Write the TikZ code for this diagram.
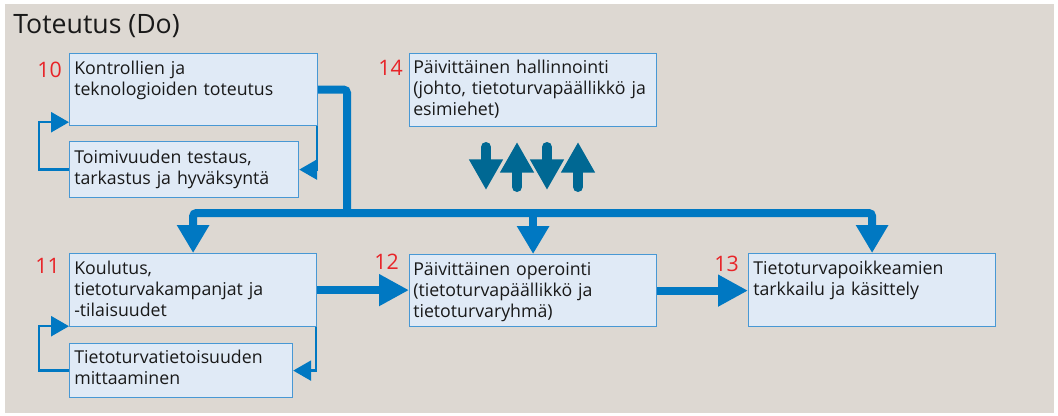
\documentclass[tikz,border=0pt]{standalone}
\usepackage{fontspec}
\setmainfont{Open Sans}
\usetikzlibrary{arrows.meta,calc}

\definecolor{panelgray}{RGB}{221,216,210}
\definecolor{boxfill}{RGB}{224,234,246}
\definecolor{boxedge}{RGB}{72,152,212}
\definecolor{busblue}{RGB}{0,120,194}
\definecolor{darkblue}{RGB}{0,104,147}
\definecolor{numred}{RGB}{232,36,40}
\definecolor{ink}{RGB}{25,25,25}

\begin{document}
\begin{tikzpicture}[x=0.75pt,y=-0.75pt,
  box/.style={draw=boxedge, fill=boxfill, line width=0.9pt, inner sep=0pt, anchor=north west},
  boxtext/.style={anchor=base west, inner sep=0pt, text width=240*0.75pt, align=left,
    text=ink, font=\fontsize{13.3}{15.75}\selectfont},
  num/.style={anchor=base east, inner sep=0pt, text=numred, font=\fontsize{16}{18}\selectfont},
  bus/.style={draw=busblue, line width=6pt, rounded corners=2.5pt},
  bushead/.style={-{Triangle[width=23pt,length=21pt]}},
  sidehead/.style={-{Triangle[width=22.5pt,length=22.5pt]}},
  loopline/.style={draw=busblue, line width=1.9pt, -{Triangle[width=15pt,length=13.5pt]}},
  dk/.style={draw=darkblue, line width=7.5pt, line cap=round, -{Triangle[width=24pt,length=23pt]}}]

% page and panel
\useasboundingbox (0,0) rectangle (1058,415);
\fill[white] (0,0) rectangle (1058,415);
\fill[panelgray] (5,4) rectangle (1054,413);

% heading
\node[anchor=base west, inner sep=0pt, text=ink, font=\fontsize{20}{24}\selectfont] (title) at (13,33) {Toteutus (Do)};

% boxes
\node[box, minimum width=248*0.75pt, minimum height=72*0.75pt] (b10) at (69,53) {};
\node[box, minimum width=229*0.75pt, minimum height=56*0.75pt] (b10t) at (69,141) {};
\node[box, minimum width=247*0.75pt, minimum height=73*0.75pt] (b14) at (409,53) {};
\node[box, minimum width=247*0.75pt, minimum height=73*0.75pt] (b11) at (69,253) {};
\node[box, minimum width=223*0.75pt, minimum height=54*0.75pt] (b11t) at (69,343) {};
\node[box, minimum width=247*0.75pt, minimum height=72*0.75pt] (b12) at (409,254) {};
\node[box, minimum width=247*0.75pt, minimum height=73*0.75pt] (b13) at (748,253) {};

% box texts
\node[boxtext] (t10) at ($(b10.north west)+(5,21)$) {Kontrollien ja\\teknologioiden toteutus};
\node[boxtext] (t10t) at ($(b10t.north west)+(5,22)$) {Toimivuuden testaus,\\tarkastus ja hyväksyntä};
\node[boxtext] (t14) at ($(b14.north west)+(4,20)$) {Päivittäinen hallinnointi\\(johto, tietoturvapäällikkö ja\\esimiehet)};
\node[boxtext] (t11) at ($(b11.north west)+(5,21)$) {Koulutus,\\tietoturvakampanjat ja\\-tilaisuudet};
\node[boxtext] (t11t) at ($(b11t.north west)+(5,20)$) {Tietoturvatietoisuuden\\mittaaminen};
\node[boxtext] (t12) at ($(b12.north west)+(4,21)$) {Päivittäinen operointi\\(tietoturvapäällikkö ja\\tietoturvaryhmä)};
\node[boxtext] (t13) at ($(b13.north west)+(5,21)$) {Tietoturvapoikkeamien\\tarkkailu ja käsittely};

% step numbers
\node[num] (n10) at (62,77) {10};
\node[num] (n11) at (60,273) {11};
\node[num] (n12) at (399,269) {12};
\node[num] (n13) at (739,271) {13};
\node[num] (n14) at (403,75) {14};

% main distribution bus
\coordinate (j) at (347,213);
\draw[bus] (b10.east) -| (j);
\draw[bus, bushead] (j) -| (b11.north);
\draw[bus, bushead] (j) -| (b13.north);
\draw[bus, bushead] (j -| b12.north) -- (b12.north);

% flow between the lower boxes
\draw[bus, sidehead] (b11.east) -- (b11.east -| b12.west);
\draw[bus, sidehead] (b12.east) -- (b12.east -| b13.west);

% feedback loops
\draw[loopline] (b10t.west) -- ++(-30,0) |- ($(b10.south west)+(0,-4)$);
\draw[loopline] ($(b10.south east)+(-1,0)$) |- (b10t.east);
\draw[loopline] (b11t.west) -- ++(-30,0) |- ($(b11.south west)+(0,-1)$);
\draw[loopline] ($(b11.south east)+(-1,0)$) |- (b11t.east);

% two-way exchange with daily management
\coordinate (d1s) at (486,147); \coordinate (d1e) at (486,190);
\coordinate (u1s) at (517,187); \coordinate (u1e) at (517,142);
\coordinate (d2s) at (547,147); \coordinate (d2e) at (547,190);
\coordinate (u2s) at (578,187); \coordinate (u2e) at (578,142);
\draw[dk] (d1s) -- (d1e);
\draw[dk] (u1s) -- (u1e);
\draw[dk] (d2s) -- (d2e);
\draw[dk] (u2s) -- (u2e);
\end{tikzpicture}
\end{document}
